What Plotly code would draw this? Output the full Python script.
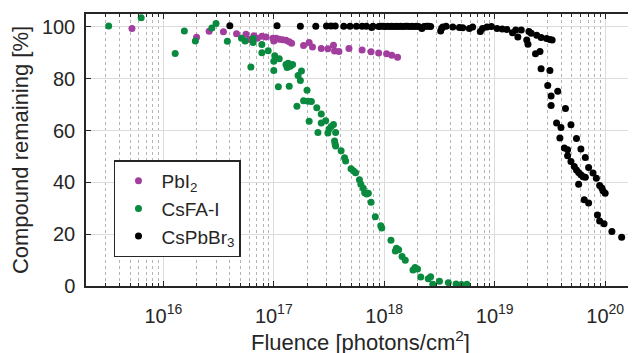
import plotly.graph_objects as go

# ---- data ----
pbi2_fluence = [5.2e15, 2.0e16, 2.6e16, 3.5e16, 4.6e16, 5.6e16, 6.0e16, 6.5e16, 6.6e16, 7.1e16,
                7.8e16, 8.5e16, 9.8e16, 1.0e17, 1.05e17, 1.12e17, 1.2e17, 1.29e17, 1.38e17, 1.45e17,
                1.86e17, 2.09e17, 2.24e17, 2.69e17, 3.09e17, 3.47e17, 3.55e17, 3.89e17, 4.79e17,
                6.3e17, 7.6e17, 8.9e17, 1.05e18, 1.17e18, 1.32e18]
pbi2_remaining = [99.4, 96.0, 98.3, 98.1, 97.4, 97.2, 95.2, 95.0, 96.6, 95.6,
                  96.4, 96.1, 95.6, 94.6, 95.6, 95.3, 95.1, 94.9, 94.3, 93.7,
                  92.8, 94.0, 92.3, 91.7, 91.6, 92.9, 90.7, 90.5, 91.7,
                  91.1, 90.4, 89.9, 89.7, 89.1, 88.3]

csfa_fluence = [3.2e15, 6.3e15, 1.28e16, 1.55e16, 1.95e16, 2.75e16, 3.0e16, 3.8e16, 5.1e16, 5.5e16,
                6.2e16, 6.5e16, 6.5e16, 7.8e16, 7.8e16, 8.9e16, 1.0e17, 1.0e17, 1.02e17, 1.12e17,
                1.1e17, 1.29e17, 1.32e17, 1.35e17, 1.41e17, 1.48e17, 1.38e17, 1.62e17, 1.66e17, 1.74e17,
                1.78e17, 1.86e17, 2.0e17, 2.04e17, 2.09e17, 2.19e17, 2.45e17, 2.51e17, 2.69e17, 2.69e17,
                2.95e17, 3.09e17, 3.16e17, 3.31e17, 3.47e17, 3.63e17, 3.55e17, 3.59e17, 3.63e17, 4.07e17,
                4.37e17, 4.47e17, 5.0e17, 5.25e17, 5.5e17, 5.96e17, 6.14e17, 6.46e17, 6.65e17, 6.92e17,
                7.18e17, 7.6e17, 8.3e17, 9.3e17, 9.5e17, 1.15e18, 1.26e18, 1.29e18, 1.35e18, 1.45e18,
                1.55e18, 1.82e18, 1.9e18, 2.0e18, 2.14e18, 2.5e18, 2.63e18, 2.75e18, 3.16e18, 3.8e18,
                4.47e18, 5.0e18, 5.6e18]
csfa_remaining = [100.4, 103.6, 89.8, 98.4, 94.6, 99.6, 101.3, 94.5, 95.6, 94.6,
                  84.5, 95.5, 94.0, 93.2, 90.0, 90.8, 86.8, 83.2, 88.9, 87.7,
                  76.9, 85.5, 84.3, 86.0, 84.8, 85.5, 77.1, 69.4, 81.3, 79.3,
                  83.0, 71.5, 75.6, 71.3, 63.6, 71.2, 68.8, 59.3, 66.4, 62.9,
                  63.8, 59.1, 60.6, 61.6, 62.3, 59.3, 56.0, 54.8, 54.0, 52.2,
                  49.5, 48.3, 45.3, 44.5, 43.7, 41.0, 39.3, 37.7, 36.0, 35.5,
                  35.8, 32.3, 26.7, 23.3, 22.4, 17.7, 13.5, 14.6, 14.0, 11.4,
                  9.9, 6.2, 7.1, 6.6, 3.5, 2.8, 3.6, 0.7, 1.8, 1.3,
                  0.8, 0.6, 0.7]

cspbbr_fluence = [4.0e16, 1.07e17, 1.74e17, 2.4e17, 3.0e17, 3.3e17, 3.6e17, 4.3e17, 4.9e17, 5.6e17,
                  6.3e17, 6.9e17, 7.7e17, 7.9e17, 8.9e17, 9.3e17, 9.8e17, 1.02e18, 1.07e18, 1.12e18,
                  1.17e18, 1.23e18, 1.29e18, 1.35e18, 1.41e18, 1.48e18, 1.55e18, 1.62e18, 1.70e18, 1.78e18,
                  1.86e18, 1.95e18, 2.04e18, 2.19e18, 2.29e18, 2.40e18, 2.51e18, 2.63e18, 3.24e18, 3.31e18,
                  3.39e18, 3.63e18, 4.17e18, 4.79e18, 5.13e18, 5.89e18, 6.31e18, 7.41e18, 7.76e18, 8.51e18,
                  9.33e18, 1.05e19, 1.17e19, 1.29e19, 1.45e19, 1.55e19, 1.62e19, 1.74e19, 1.95e19, 2.0e19,
                  2.04e19, 2.14e19, 2.4e19, 2.63e19, 2.95e19, 3.16e19, 3.31e19,
                  2.34e19, 2.57e19, 2.63e19, 3.16e19, 3.02e19, 3.72e19, 3.24e19, 3.24e19, 4.37e19, 3.63e19,
                  3.98e19, 4.9e19, 3.89e19, 5.5e19, 4.27e19, 4.57e19, 6.03e19, 4.57e19, 6.61e19, 4.9e19,
                  5.25e19, 5.5e19, 5.75e19, 6.03e19, 6.31e19, 6.61e19, 5.75e19, 7.08e19, 7.76e19, 8.32e19,
                  8.91e19, 9.33e19, 9.55e19, 1.0e20, 6.46e19, 7.08e19, 8.51e19, 8.91e19, 9.77e19, 1.15e20,
                  1.41e20]
cspbbr_remaining = [100.5, 100.5, 100.3, 100.3, 100.4, 100.4, 100.4, 100.3, 100.3, 100.3,
                    100.3, 100.3, 99.8, 100.3, 100.2, 100.3, 100.3, 100.2, 100.3, 100.2,
                    100.3, 100.2, 100.3, 100.2, 100.3, 100.2, 100.3, 100.3, 100.2, 100.3,
                    100.2, 100.3, 100.2, 99.4, 100.2, 100.3, 100.3, 100.2, 98.4, 99.5,
                    100.0, 100.3, 100.0, 99.8, 99.7, 99.4, 100.0, 98.2, 99.4, 100.0,
                    100.2, 99.4, 99.2, 99.0, 97.8, 98.8, 96.1, 98.8, 95.0, 93.3,
                    98.2, 97.6, 96.8, 95.9, 95.5, 95.2, 95.0,
                    89.7, 90.5, 83.9, 83.2, 77.4, 75.2, 73.3, 69.7, 68.5, 62.9,
                    61.2, 62.2, 57.1, 56.9, 53.3, 52.6, 52.9, 50.3, 49.6, 48.1,
                    46.1, 44.8, 43.8, 42.9, 42.2, 42.0, 39.3, 45.7, 43.6, 41.6,
                    38.8, 37.8, 36.8, 35.8, 33.3, 32.0, 27.4, 25.1, 24.0, 21.0,
                    18.8]

x_tick_vals = [1e16, 1e17, 1e18, 1e19, 1e20]
x_tick_text = ["10<sup>16</sup>", "10<sup>17</sup>", "10<sup>18</sup>", "10<sup>19</sup>", "10<sup>20</sup>"]
y_tick_vals = [0, 20, 40, 60, 80, 100]

series_names = ["PbI<sub>2</sub>", "CsFA-I", "CsPbBr<sub>3</sub>"]
series_colors = ["#A23E9E", "#0A8A3E", "#000000"]

FONT = "Liberation Sans, Arial, Helvetica, sans-serif"
AX = "#262626"

fig = go.Figure()
for name, xs, ys, col in zip(series_names,
                             [pbi2_fluence, csfa_fluence, cspbbr_fluence],
                             [pbi2_remaining, csfa_remaining, cspbbr_remaining],
                             series_colors):
    fig.add_trace(go.Scatter(x=xs, y=ys, mode="markers", name=name,
                             marker=dict(size=7, color=col, line=dict(width=0))))

# the page body has an 8px default margin, so the figure is laid out 8px up/left
fig.update_layout(
    template="none",
    width=636, height=353,
    margin=dict(l=78, r=9, t=6, b=75, autoexpand=False),
    paper_bgcolor="white", plot_bgcolor="white",
    font=dict(family=FONT, color=AX),
    showlegend=True,
    legend=dict(x=0.051, y=0.462, xanchor="left", yanchor="top",
                bgcolor="white", bordercolor=AX, borderwidth=1.5,
                font=dict(size=19, family=FONT, color=AX),
                itemwidth=36, tracegroupgap=0),
)
fig.update_xaxes(
    type="log", range=[15.30, 20.27], automargin=False,
    tickvals=x_tick_vals, ticktext=x_tick_text,
    tickfont=dict(size=20, family=FONT, color=AX), ticklabelstandoff=11,
    ticks="inside", ticklen=5, tickcolor=AX, tickwidth=1,
    showline=True, linecolor=AX, linewidth=1.5, mirror="allticks",
    showgrid=True, gridcolor="#dcdcdc", gridwidth=1,
    minor=dict(dtick="D1", ticks="inside", ticklen=3, tickcolor=AX,
               showgrid=True, gridcolor="#b4b4b4", griddash="dot", gridwidth=1),
    title=dict(text="Fluence [photons/cm<sup>2</sup>]", font=dict(size=22, family=FONT, color=AX),
               standoff=9),
    zeroline=False,
)
fig.update_yaxes(
    range=[0, 105], tickvals=y_tick_vals, automargin=False,
    tickfont=dict(size=20, family=FONT, color=AX), ticklabelstandoff=5,
    ticks="inside", ticklen=5, tickcolor=AX, tickwidth=1,
    showline=True, linecolor=AX, linewidth=1.5, mirror="allticks",
    showgrid=True, gridcolor="#dcdcdc", gridwidth=1,
    title=dict(text="Compound remaining [%]", font=dict(size=22, family=FONT, color=AX),
               standoff=7),
    zeroline=False,
)

fig.write_html("out.html")
